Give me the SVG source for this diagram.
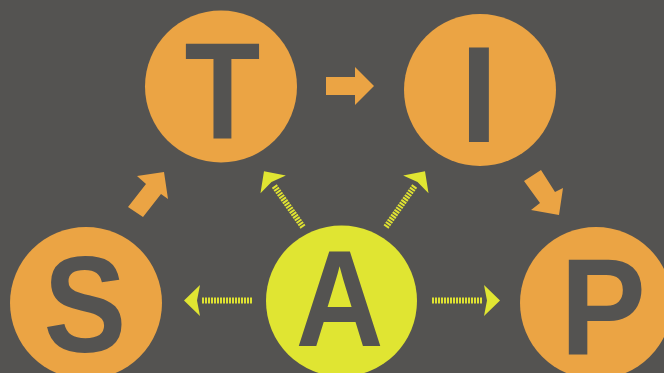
<svg xmlns="http://www.w3.org/2000/svg" width="664" height="373" viewBox="0 0 664 373">
<style>
.bg{fill:#545351}
.orange{fill:#eba444}
.lime{fill:#e0e532}
.letter{fill:#545351;font-family:"Liberation Sans",Arial,sans-serif;font-weight:bold;font-size:138px;text-anchor:middle}
.hatch{stroke:#dfe232;stroke-width:6;stroke-dasharray:2 1;fill:none}
</style>
<defs>
<g id="yarrow">
<line class="hatch" x1="0" y1="0" x2="51" y2="0"/>
<polygon class="lime" points="52,-15.5 68,0 52,15.5 55,0"/>
</g>
</defs>
<rect class="bg" x="0" y="0" width="664" height="373"/>
<g id="connectors">
<polygon class="orange" points="164,172 137,176 146,184 128,207 143,217 161,194 168,199"/>
<polygon class="orange" points="326,77 355,77 355,67 374,86 355,105 355,95 326,95"/>
<polygon class="orange" points="524,181 541,170 555,192 563,188 559,215 531,210 540,203"/>
<use href="#yarrow" transform="translate(252,300.5) rotate(180)"/>
<use href="#yarrow" transform="translate(432,300.5)"/>
<use href="#yarrow" transform="translate(303,227) rotate(-125)"/>
<use href="#yarrow" transform="translate(386,227) rotate(-55)"/>
</g>
<g id="node-T">
<circle class="orange" cx="221" cy="86.5" r="76"/>
<text class="letter" transform="translate(222.5,138) scale(0.9,1)">T</text>
</g>
<g id="node-I">
<circle class="orange" cx="480" cy="90" r="76"/>
<text class="letter" transform="translate(479,142)">I</text>
</g>
<g id="node-S">
<circle class="orange" cx="86" cy="303" r="76"/>
<text class="letter" transform="translate(85,352) scale(0.9,1)">S</text>
</g>
<g id="node-A">
<circle class="lime" cx="341.5" cy="301" r="75.5"/>
<text class="letter" transform="translate(339.5,346) scale(0.88,1)">A</text>
</g>
<g id="node-P">
<circle class="orange" cx="596" cy="303" r="76"/>
<text class="letter" transform="translate(603,354) scale(0.93,1)">P</text>
</g>
</svg>
